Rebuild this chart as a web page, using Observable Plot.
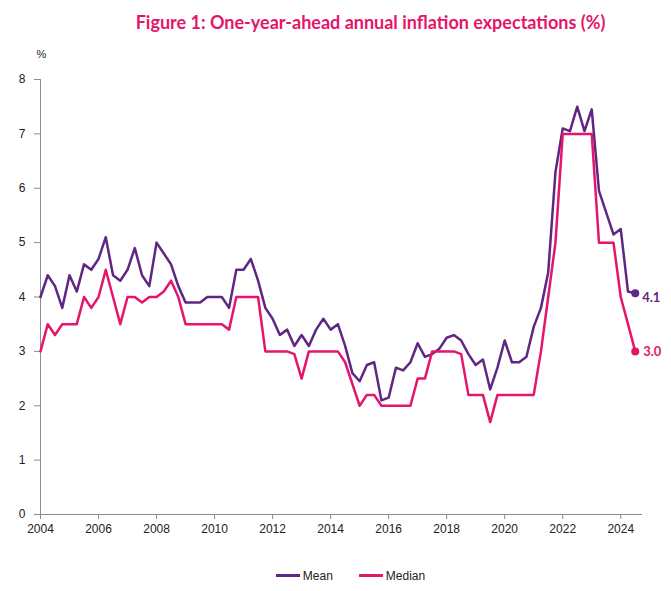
<!DOCTYPE html>
<html><head><meta charset="utf-8">
<script src="https://cdn.jsdelivr.net/npm/d3@7"></script>
<script src="https://cdn.jsdelivr.net/npm/@observablehq/plot@0.6"></script>
<style>
body{margin:0;background:#fff;width:671px;height:591px;overflow:hidden;font-family:"Liberation Sans Narrow","Liberation Sans",sans-serif;color:#222}
#title{height:40px;line-height:44px;text-align:center;font-family:Lato,"Open Sans",sans-serif;font-weight:bold;color:#e5156b;font-size:18px;padding-left:70px;box-sizing:border-box}
#chart svg{display:block}
#legend{display:flex;justify-content:center;align-items:center;gap:26px;height:31px;font-size:12px;padding-left:30px;box-sizing:border-box}
.item{display:flex;align-items:center;gap:3px}
.sw{display:inline-block;width:24px;height:2.5px}
</style></head>
<body>
<div id="title">Figure 1: One-year-ahead annual inflation expectations (%)</div>
<div id="chart"></div>
<div id="legend"></div>
<script>
const startYear = 2004;
const meanValues = [4.0,4.4,4.2,3.8,4.4,4.1,4.6,4.5,4.7,5.1,4.4,4.3,4.5,4.9,4.4,4.2,5.0,4.8,4.6,4.2,
3.9,3.9,3.9,4.0,4.0,4.0,3.8,4.5,4.5,4.7,4.3,3.8,3.6,3.3,3.4,3.1,3.3,3.1,3.4,3.6,
3.4,3.5,3.1,2.6,2.45,2.75,2.8,2.1,2.15,2.7,2.65,2.8,3.15,2.9,2.95,3.05,3.25,3.3,3.2,2.95,
2.75,2.85,2.3,2.7,3.2,2.8,2.8,2.9,3.45,3.8,4.45,6.3,7.1,7.05,7.5,7.05,7.45,5.95,5.55,5.15,
5.25,4.1,4.07];
const medianValues = [3.0,3.5,3.3,3.5,3.5,3.5,4.0,3.8,4.0,4.5,4.0,3.5,4.0,4.0,3.9,4.0,4.0,4.1,4.3,4.0,
3.5,3.5,3.5,3.5,3.5,3.5,3.4,4.0,4.0,4.0,4.0,3.0,3.0,3.0,3.0,2.95,2.5,3.0,3.0,3.0,
3.0,3.0,2.8,2.4,2.0,2.2,2.2,2.0,2.0,2.0,2.0,2.0,2.5,2.5,3.0,3.0,3.0,3.0,2.95,2.2,
2.2,2.2,1.7,2.2,2.2,2.2,2.2,2.2,2.2,3.0,4.0,5.0,7.0,7.0,7.0,7.0,7.0,5.0,5.0,5.0,
4.0,3.5,3.0];
const yearTicks = [2004,2006,2008,2010,2012,2014,2016,2018,2020,2022,2024];
const valueTicks = [0,1,2,3,4,5,6,7,8];
const seriesNames = ["Mean","Median"];
const colors = ["#5f2683","#e5156b"];

const rows = [];
meanValues.forEach((v,i)=>rows.push({series:"Mean",t:startYear+i/4,v}));
medianValues.forEach((v,i)=>rows.push({series:"Median",t:startYear+i/4,v}));
const lastPts = seriesNames.map((s)=>{const r=rows.filter(d=>d.series===s);return r[r.length-1];});
const lastMean = lastPts.filter(d=>d.series==="Mean");
const lastMedian = lastPts.filter(d=>d.series==="Median");
const labelFont = 'Lato,"Open Sans",sans-serif';

const plot = Plot.plot({
  width:671, height:520,
  marginLeft:40, marginRight:29, marginTop:39, marginBottom:46,
  style:{fontFamily:'"Liberation Sans Narrow","Liberation Sans",sans-serif',fontSize:"12px",color:"#222",background:"#fff"},
  x:{domain:[2004,2024.75]},
  y:{domain:[0,8]},
  color:{domain:seriesNames,range:colors},
  marks:[
    Plot.axisY({ticks:valueTicks,tickSize:6,tickPadding:9,label:null,stroke:"#8c8c8c",fill:"#222"}),
    Plot.axisX({ticks:yearTicks,tickFormat:d=>String(d),tickSize:5,tickPadding:5,label:null,stroke:"#8c8c8c",fill:"#222"}),
    Plot.ruleX([2004],{stroke:"#8c8c8c"}),
    Plot.ruleY([0],{stroke:"#8c8c8c"}),
    Plot.text(["%"],{frameAnchor:"top-left",dx:-4,dy:-29,fontSize:11,fill:"#222"}),
    Plot.line(rows,{x:"t",y:"v",z:"series",stroke:"series",strokeWidth:2.5}),
    Plot.dot(lastPts,{x:"t",y:"v",fill:"series",r:4}),
    Plot.text(lastMean,{x:"t",y:"v",text:d=>d.v.toFixed(1),fill:"series",textAnchor:"start",dx:7,dy:5,fontWeight:"bold",fontSize:13,fontFamily:labelFont}),
    Plot.text(lastMedian,{x:"t",y:"v",text:d=>d.v.toFixed(1),fill:"series",textAnchor:"start",dx:8,dy:0,fontWeight:"bold",fontSize:13,fontFamily:labelFont})
  ]
});
document.getElementById("chart").appendChild(plot);

const legend = document.getElementById("legend");
seriesNames.forEach((s,i)=>{
  const it=document.createElement("div");it.className="item";
  const sw=document.createElement("span");sw.className="sw";sw.style.background=colors[i];
  const tx=document.createElement("span");tx.textContent=s;
  it.appendChild(sw);it.appendChild(tx);legend.appendChild(it);
});
</script>
</body></html>
